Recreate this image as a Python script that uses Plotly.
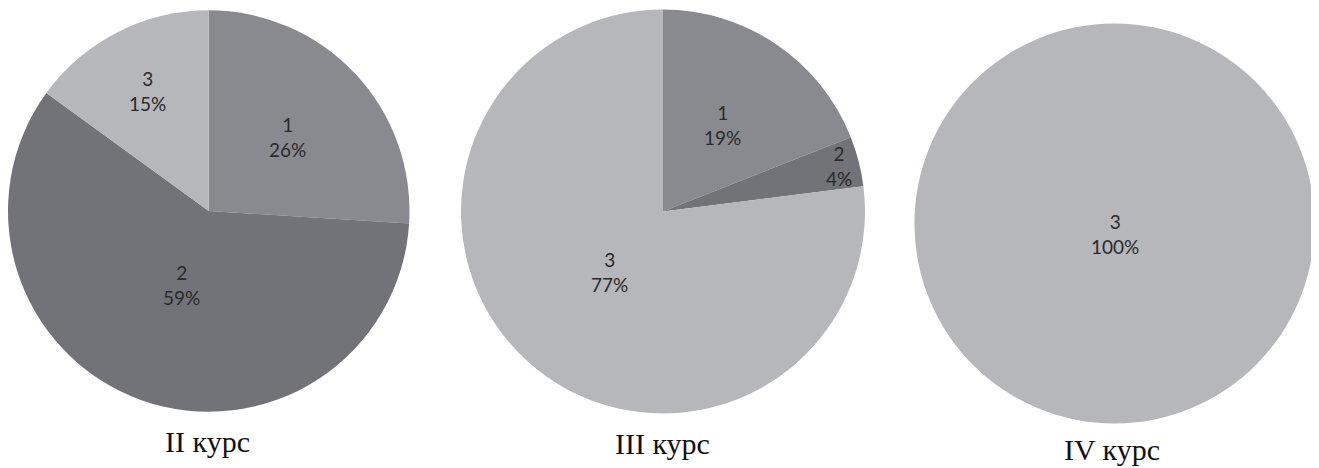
import math
import plotly.graph_objects as go

# ---- data ----
categories = ["1", "2", "3"]
course_ii = [26, 59, 15]
course_iii = [19, 4, 77]
course_iv = [0, 0, 100]
captions = ["II курс", "III курс", "IV курс"]

# ---- styles ----
slice_colors = {"1": "#898a8f", "2": "#727378", "3": "#b6b7bb"}
PAGE_MARGIN = 8  # default body margin of the html page
W, H = 1319 - PAGE_MARGIN, 468 - PAGE_MARGIN
# pie centres and diameters in screen pixels
pies_px = [(208.5, 211, 402), (663, 211.5, 404), (1114.5, 223.5, 400)]
# data-label distance from centre, as fraction of radius (Excel "best fit" look)
label_radius = [[0.54, 0.39, 0.67], [0.52, 0.9, 0.4], [0.0, 0.0, 0.05]]
caption_pos = [(207, 441), (662, 443), (1112, 449)]


def fx(px):
    return min(1.0, max(0.0, (px - PAGE_MARGIN) / W))


def fy(py):
    return min(1.0, max(0.0, 1 - (py - PAGE_MARGIN) / H))


fig = go.Figure()
for vals, (cx, cy, d), fracs in zip([course_ii, course_iii, course_iv], pies_px, label_radius):
    labs = [c for c, v in zip(categories, vals) if v > 0]
    vs = [v for v in vals if v > 0]
    fig.add_trace(go.Pie(
        labels=labs,
        values=vs,
        sort=False,
        direction="clockwise",
        rotation=0,
        marker=dict(colors=[slice_colors[c] for c in labs], line=dict(width=0)),
        textinfo="none",
        hoverinfo="label+percent",
        showlegend=False,
        domain=dict(x=[fx(cx - d / 2), fx(cx + d / 2)],
                    y=[fy(cy + d / 2), fy(cy - d / 2)]),
    ))
    # data labels placed at slice bisectors (clockwise from 12 o'clock)
    total = sum(vals)
    cum = 0
    r = d / 2
    for cat, v, f in zip(categories, vals, fracs):
        if v <= 0:
            continue
        mid = (cum + v / 2) / total * 2 * math.pi
        cum += v
        px = cx + f * r * math.sin(mid)
        py = cy - f * r * math.cos(mid)
        fig.add_annotation(
            text=f"{cat}<br>{v}%", x=fx(px), y=fy(py), xref="paper", yref="paper",
            xanchor="center", yanchor="middle", showarrow=False,
            font=dict(family="Lato", size=19, color="#2a2a2a"),
        )

for text, (cx, cy) in zip(captions, caption_pos):
    fig.add_annotation(
        text=text, x=fx(cx), y=fy(cy), xref="paper", yref="paper",
        xanchor="center", yanchor="middle", showarrow=False,
        font=dict(family="Liberation Serif", size=30, color="#111111"),
    )

fig.update_layout(
    width=W, height=H,
    margin=dict(l=0, r=0, t=0, b=0),
    paper_bgcolor="white",
    plot_bgcolor="white",
)

fig.write_html("out.html")
